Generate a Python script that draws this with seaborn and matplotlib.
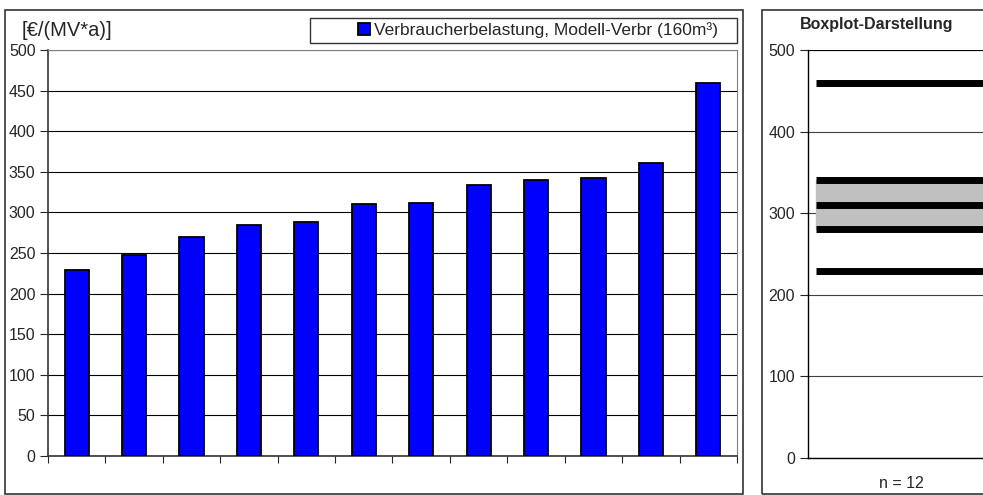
import numpy as np
import pandas as pd
import matplotlib
matplotlib.use('Agg')
import matplotlib.pyplot as plt
from matplotlib.patches import Rectangle
import seaborn as sns

# values (sorted ascending as in the original)
belastung = [229, 248, 270, 284, 288, 310, 311, 334, 340, 342, 361, 459]
kategorie = [f'V{i+1}' for i in range(len(belastung))]
legend_label = 'Verbraucherbelastung, Modell-Verbr (160m³)'
y_label = '[€/(MV*a)]'
box_title = 'Boxplot-Darstellung'

ds = pd.DataFrame({'kat': kategorie, 'wert': belastung})

sns.set_style('white')
plt.rcParams['font.family'] = ['Liberation Sans', 'DejaVu Sans']

fig = plt.figure(figsize=(9.83, 4.95), dpi=100)

# outer chart frames
fig.patches.append(Rectangle((5 / 983, 0.002), 738 / 983, 484 / 495, transform=fig.transFigure,
                             fill=False, edgecolor='#333333', lw=1.2))
fig.patches.append(Rectangle((762 / 983, 0.002), 230 / 983, 484 / 495, transform=fig.transFigure,
                             fill=False, edgecolor='#333333', lw=1.2))

# ---- left: bar chart ----
ax = fig.add_axes([48 / 983, 39 / 495, 689 / 983, 406 / 495])
sns.barplot(x='kat', y='wert', data=ds, color='#0000FF', width=0.42, edgecolor='black',
            linewidth=1.3, saturation=1, ax=ax, label=legend_label, zorder=3)
ax.set_ylim(0, 500)
ax.set_xlim(-0.5, len(belastung) - 0.5)
ax.set_yticks(range(0, 501, 50))
ax.yaxis.grid(True, color='black', lw=0.8, zorder=0)
ax.set_xticks(np.arange(-0.5, len(belastung), 1.0))
ax.set_xticklabels([])
ax.tick_params(axis='y', labelsize=11.5, length=6, width=0.8, pad=3, left=True)
ax.tick_params(axis='x', length=5, width=0.8, bottom=True, direction='out')
ax.set_xlabel('')
ax.set_ylabel('')
for s in ['top', 'right']:
    ax.spines[s].set_color('#808080')
for s in ['left', 'bottom']:
    ax.spines[s].set_color('#333333')
    ax.spines[s].set_linewidth(1.2)
fig.text(22 / 983, 1 - 30 / 495, y_label, fontsize=14.5, va='center', ha='left')

# legend with its own box
fig.patches.append(Rectangle((310 / 983, 1 - 43 / 495), 427 / 983, 25 / 495, transform=fig.transFigure,
                             fill=False, edgecolor='#333333', lw=1.0))
leg = fig.legend(*ax.get_legend_handles_labels(), loc='center', bbox_to_anchor=(538 / 983, 1 - 30.5 / 495),
                 frameon=False, fontsize=12.5, handlelength=0.7, handleheight=0.7, handletextpad=0.2)
if ax.get_legend():
    ax.get_legend().remove()

# ---- right: boxplot as in the original (thick lines, grey box) ----
bx = fig.add_axes([807.5 / 983, 37 / 495, 200 / 983, 408 / 495])
werte = np.array(belastung)
q1, med, q3 = np.percentile(werte, [25, 50, 75])
x0 = 0.04
bx.fill_between([x0, 1], q1, q3, color='#C0C0C0', zorder=2)
for v in [werte.min(), werte.max(), q1, q3, med]:
    bx.plot([x0, 1], [v, v], color='black', lw=5, solid_capstyle='butt', zorder=3)
bx.set_xlim(0, 1)
bx.set_ylim(0, 500)
bx.set_yticks(range(0, 501, 100))
bx.yaxis.grid(True, color='#404040', lw=0.8, zorder=0)
bx.set_xticks([])
bx.tick_params(axis='y', labelsize=11.5, length=6, width=0.8, pad=3, left=True)
bx.spines['right'].set_visible(False)
bx.spines['top'].set_visible(False)
bx.axhline(500, color='black', lw=0.8)
for s in ['left', 'bottom']:
    bx.spines[s].set_color('black')
    bx.spines[s].set_linewidth(1.0)
fig.text(877 / 983, 1 - 25 / 495, box_title, fontsize=11.5, fontweight='bold', ha='center', va='center')
fig.text(901 / 983, 1 - 483 / 495, f'n = {len(belastung)}', fontsize=11.5, ha='center', va='center')

fig.savefig('out.png', dpi=100)
